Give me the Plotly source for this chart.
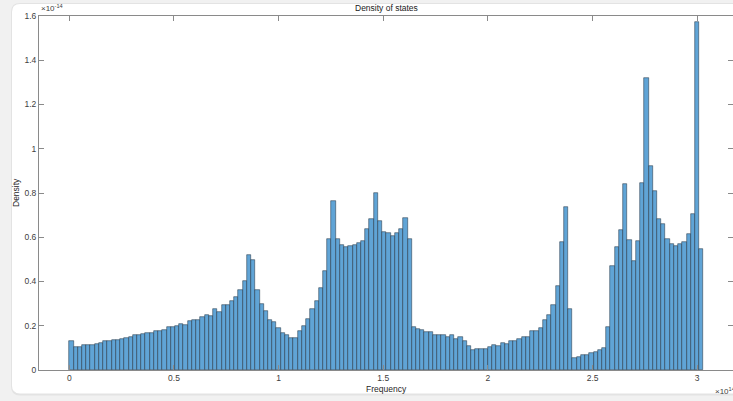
import plotly.graph_objects as go

# ---- data (frequency in units of 1e14, density in units of 1e-14) ----
freq_bin_start = 0.0
freq_bin_width = 0.0202
density = [
    0.130, 0.105, 0.106, 0.112, 0.115, 0.115, 0.119, 0.124, 0.132, 0.132,
    0.134, 0.136, 0.141, 0.145, 0.151, 0.156, 0.156, 0.163, 0.169, 0.169,
    0.177, 0.177, 0.180, 0.196, 0.195,
    0.198, 0.208, 0.204, 0.223, 0.226, 0.226, 0.240, 0.247, 0.244, 0.276,
    0.264, 0.294, 0.295, 0.313, 0.330, 0.360, 0.402, 0.519, 0.497, 0.360,
    0.300, 0.268, 0.228, 0.217, 0.190,
    0.168, 0.156, 0.145, 0.145, 0.175, 0.198, 0.231, 0.277, 0.313, 0.371,
    0.449, 0.592, 0.763, 0.593, 0.563, 0.554, 0.560, 0.566, 0.575, 0.584,
    0.637, 0.683, 0.800, 0.673, 0.623, 0.619, 0.607, 0.620, 0.637, 0.686,
    0.592,
    0.196, 0.186, 0.181, 0.172, 0.172, 0.160, 0.160, 0.156, 0.151, 0.156,
    0.138, 0.150, 0.132, 0.110, 0.092, 0.096, 0.096, 0.096, 0.105, 0.115,
    0.109, 0.123, 0.117, 0.129, 0.133, 0.139, 0.151, 0.151, 0.177, 0.177,
    0.192, 0.226, 0.250, 0.294, 0.380, 0.578, 0.737, 0.276, 0.053, 0.059,
    0.067, 0.070, 0.077, 0.082,
    0.092, 0.100, 0.195, 0.471, 0.558, 0.634, 0.841, 0.589, 0.494, 0.583,
    0.844, 1.318, 0.922, 0.811, 0.683, 0.659, 0.592, 0.569, 0.560, 0.569,
    0.578, 0.613, 0.704, 1.575, 0.549,
]
x_tick_vals = [0, 0.5, 1, 1.5, 2, 2.5, 3]
x_tick_text = ["0", "0.5", "1", "1.5", "2", "2.5", "3"]
y_tick_vals = [0, 0.2, 0.4, 0.6, 0.8, 1.0, 1.2, 1.4, 1.6]
y_tick_text = ["0", "0.2", "0.4", "0.6", "0.8", "1", "1.2", "1.4", "1.6"]

title_text = "Density of states"
x_label = "Frequency"
y_label = "Density"

centers = [freq_bin_start + (i + 0.5) * freq_bin_width for i in range(len(density))]

W, H = 733, 401
ML, MR, MT, MB = 39, 0, 16, 30.5
pw, ph = W - ML - MR, H - MT - MB

def px_to_paper(px, py):
    return (px - ML) / pw, (H - MB - py) / ph

def rounded_rect(x0p, y0p, x1p, y1p, r):
    # pixel coords -> paper path with rounded corners
    ax0, ay_top = px_to_paper(x0p, y0p)
    ax1, ay_bot = px_to_paper(x1p, y1p)
    rx, ry = r / pw, r / ph
    return (f"M {ax0+rx},{ay_top} L {ax1-rx},{ay_top} Q {ax1},{ay_top} {ax1},{ay_top-ry} "
            f"L {ax1},{ay_bot+ry} Q {ax1},{ay_bot} {ax1-rx},{ay_bot} "
            f"L {ax0+rx},{ay_bot} Q {ax0},{ay_bot} {ax0},{ay_bot+ry} "
            f"L {ax0},{ay_top-ry} Q {ax0},{ay_top} {ax0+rx},{ay_top} Z")

font_family = "Liberation Sans, Arial, sans-serif"

fig = go.Figure(
    go.Bar(
        x=centers,
        y=density,
        width=freq_bin_width,
        marker=dict(color="rgb(96,164,214)", line=dict(color="rgba(30,45,60,0.85)", width=0.6)),
        showlegend=False,
    )
)

fig.update_layout(
    width=W, height=H,
    margin=dict(l=ML, r=MR, t=MT, b=MB, pad=0),
    paper_bgcolor="#f1f1f1",
    plot_bgcolor="rgba(0,0,0,0)",
    font=dict(family=font_family, size=8.5, color="#404040"),
    bargap=0,
    shapes=[
        dict(type="path", xref="paper", yref="paper", layer="below",
             path=rounded_rect(11, 3, 760, 396, 9), fillcolor="#e3e3e3", line=dict(width=0)),
        dict(type="path", xref="paper", yref="paper", layer="below",
             path=rounded_rect(12, 4, 760, 394, 8), fillcolor="#ffffff", line=dict(width=0)),
    ],
    annotations=[
        dict(text=title_text, xref="paper", yref="paper", x=0.5, y=1, yshift=1,
             xanchor="center", yanchor="bottom", showarrow=False,
             font=dict(size=8.5, color="#1a1a1a")),
        dict(text=x_label, xref="paper", yref="paper", x=0.5, y=0, yshift=-12,
             xanchor="center", yanchor="top", showarrow=False,
             font=dict(size=8.5, color="#262626")),
        dict(text=y_label, xref="paper", yref="paper", x=0, xshift=-23, y=0.5,
             xanchor="center", yanchor="middle", textangle=-90, showarrow=False,
             font=dict(size=8.5, color="#262626")),
        dict(text="×10<sup>-14</sup>", xref="paper", yref="paper", x=0, y=1, yshift=1,
             xanchor="left", yanchor="bottom", showarrow=False,
             font=dict(size=8, color="#404040")),
        dict(text="×10<sup>14</sup>", xref="paper", yref="paper", x=(713 - ML) / pw, y=0,
             yshift=-14, xanchor="left", yanchor="top", showarrow=False,
             font=dict(size=8, color="#404040")),
    ],
)

fig.update_xaxes(
    range=[-0.1448, 3.171], tickmode="array", tickvals=x_tick_vals, ticktext=x_tick_text,
    ticks="inside", ticklen=5, tickcolor="#8a8a8a", showline=True, linecolor="#8a8a8a",
    linewidth=1, mirror="ticks", showgrid=False, zeroline=False,
)
fig.update_yaxes(
    range=[0, 1.6], tickmode="array", tickvals=y_tick_vals, ticktext=y_tick_text,
    ticks="inside", ticklen=5, tickcolor="#8a8a8a", showline=True, linecolor="#8a8a8a",
    linewidth=1, mirror="ticks", showgrid=False, zeroline=False,
)

fig.write_html(
    "out.html",
    config={"displayModeBar": False},
    post_script="document.body.style.margin='0';document.body.style.background='#f1f1f1';",
)
